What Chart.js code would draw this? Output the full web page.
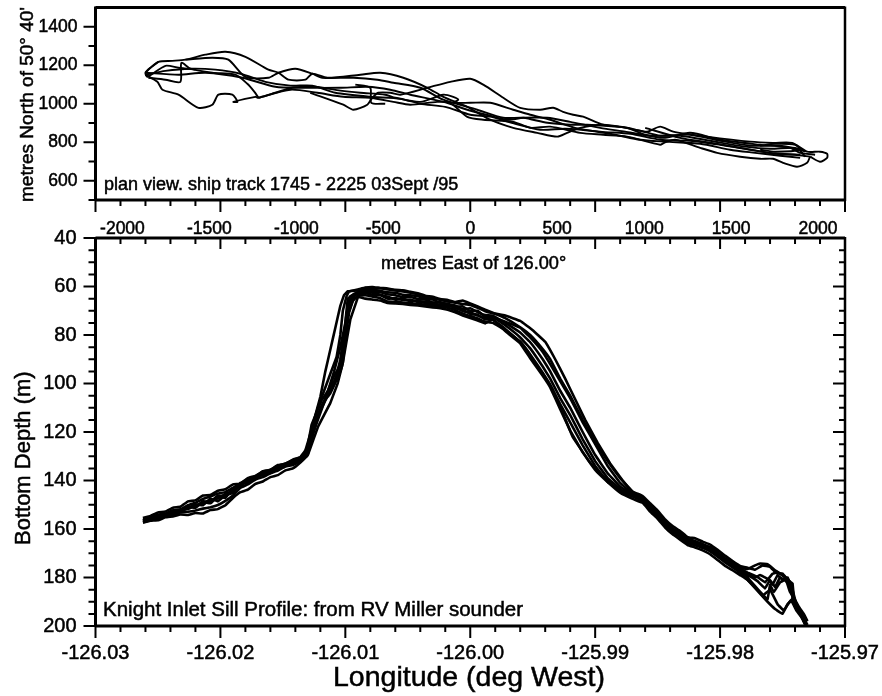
<!DOCTYPE html>
<html>
<head>
<meta charset="utf-8">
<title>Knight Inlet Sill</title>
<script src="https://cdn.jsdelivr.net/npm/chart.js@4"></script>
<style>
    html, body { margin: 0; background: #fff; }
    #planWrap { position: absolute; left: 0; top: 0; width: 882px; height: 240px; }
    #depthWrap { position: absolute; left: 0; top: 225px; width: 882px; height: 471px; }
</style>
</head>
<body>
<div id="planWrap"><canvas id="planChart"></canvas></div>
<div id="depthWrap"><canvas id="depthChart"></canvas></div>
<script>
// --- plan view: ship track, metres East / North ---
const track1X = [-1868,-1839,-1793,-1713,-1638,-1523,-1408,-1293,-1161,-1103,-1046,-948,-908,-822,-632,-517,-385,-247,-155,-17,115,247,385,500,557,632,764,902,1017,1092,1167,1362,1609,1741,1851,1937,2011,2052,2052,2011,1954];
const track1Y = [1161,1187,1218,1223,1229,1255,1270,1244,1177,1161,1125,1125,1156,1135,1151,1161,1135,1083,1036,984,917,875,849,829,849,875,891,875,855,881,855,829,803,797,797,751,751,740,719,699,725];
const track2X = [-1638,-1483,-1391,-1293,-1161,-1103,-1006,-908,-851,-672,-534,-442,-287,-155,40,190,305,443,575,672,845,977,1092,1264,1437,1609,1782,1897,1925];
const track2Y = [1229,1239,1229,1140,1135,1161,1182,1156,1135,1135,1125,1109,1083,1021,969,927,927,901,891,891,881,860,834,839,808,782,782,756,725];
const track3X = [-1868,-1678,-1523,-1310,-1121,-966,-747,-592,-460,-345,-155,-17,115,213,305,443,575,747,891,1034,1207,1379,1580,1724,1868,1925];
const track3Y = [1161,1151,1161,1135,1088,1083,1083,1088,1073,1047,1010,969,938,917,927,927,906,875,855,834,834,808,777,766,771,751];
const track4X = [-1868,-1799,-1770,-1678,-1563,-1483,-1448,-1368,-1339,-1362,-1236,-1218,-1121,-1023,-891,-747,-632,-489,-431,-287,-155,-98,-69,-98,0,115,247,345,460,603,747,920,1092,1264,1437,1609,1753,1897];
const track4Y = [1151,1114,1073,1047,979,995,1047,1047,1010,1010,1036,1031,1057,1083,1088,1068,1057,1047,1031,1010,1047,1036,1021,1005,1005,1005,969,943,917,875,855,844,813,808,787,761,740,735];
const track5X = [-1851,-1753,-1667,-1661,-1609,-1483,-1351,-1282,-1241,-1218];
const track5Y = [1135,1125,1114,1213,1182,1161,1151,1104,1062,1031];
const track6X = [-920,-730,-672,-592,-563,-529,-460,-402,-247,-115,0,75,190,287,402,477,534,592,649,764,902,1006,1121,1264,1437,1667,1839,1897,1983];
const track6Y = [1057,995,969,995,1031,1057,1057,1047,1083,1114,1130,1099,1031,979,969,979,958,943,933,891,875,839,823,849,813,787,771,745,735];
const track7X = [-1218,-1034,-879,-730,-575,-442,-345,-190,-115,-17,75,247,345,460,632,764,902,1092,1115,1178,1322,1420,1552,1667,1741,1799,1879,1937,1954];
const track7Y = [1031,1073,1057,1036,1031,1010,995,1010,1005,932,917,906,875,881,849,839,829,787,797,813,771,745,725,714,714,693,673,693,725];
const track8X = [-1868,-1753,-1609,-1466,-1322,-1178,-1034,-908,-776,-575,-402,-287,-144,0,115,259,402,546,690,833,977,1121,1322,1494,1638,1782,1897];
const track8Y = [1151,1171,1182,1177,1156,1114,1094,1094,1057,1036,1026,1000,984,943,933,896,865,870,860,839,813,803,792,761,745,730,719];
const track9X = [-1793,-1839,-1868,-1856,-1753,-1678,-1580];
const track9Y = [1218,1187,1161,1140,1197,1187,1177];
const track10X = [-661,-575,-569,-489];
const track10Y = [1099,1083,1005,1000];
const track11X = [1006,1207,1379,1552,1724,1868,1954];
const track11Y = [875,823,798,771,745,735,725];
const track12X = [1667,1753,1868,1897,1753,1667];
const track12Y = [782,792,787,761,751,761];

const planXLabels = [-2000,-1500,-1000,-500,0,500,1000,1500,2000];
const planYLabels = [600,800,1000,1200,1400];
const planYMinor = [500,700,900,1100,1300];

// --- depth profile: longitude and bottom depth ---
const lonSlope = [-126.0262,-126.0256,-126.0250,-126.0244,-126.0238,-126.0232,-126.0226,-126.0220,-126.0214,-126.0208,-126.0202,-126.0196,-126.0190,-126.0184,-126.0178,-126.0172,-126.0166,-126.0160,-126.0154,-126.0148,-126.0142,-126.0136];
const lonCrest = [-126.0090,-126.0084,-126.0078,-126.0072,-126.0066,-126.0060,-126.0054,-126.0048,-126.0042,-126.0036,-126.0030,-126.0024,-126.0018,-126.0012,-126.0006,-126.0000,-125.9994,-125.9988];
const lonDrop = [-125.9982,-125.9972,-125.9960,-125.9952,-125.9942,-125.9936,-125.9928,-125.9920,-125.9910,-125.9900,-125.9890,-125.9880,-125.9870];
const lonFoot = [-125.9862,-125.9856,-125.9850,-125.9844,-125.9838,-125.9832,-125.9826,-125.9820,-125.9814,-125.9808,-125.9802,-125.9796,-125.9790,-125.9784];

const lon1 = [...lonSlope,
    -126.0130,-126.0125,-126.0120,-126.0116,-126.0112,-126.0108,-126.0104,-126.0101,-126.0098,
    ...lonCrest,
    -125.9982,-125.9972,-125.9960,-125.9950,-125.9940,-125.9932,-125.9924,-125.9916,-125.9908,-125.9898,-125.9888,-125.9878,-125.9870,
    ...lonFoot,
    -125.9778,-125.9772,-125.9768,-125.9762,-125.9756,-125.9750,-125.9745,-125.9742,-125.9742,-125.9738,-125.9734,-125.9730];
const depth1 = [155.8,155.2,154.1,153.6,152.3,151.8,150.2,149.2,147.6,146.6,145.4,144.8,143.0,141.2,139.0,138.1,136.3,135.6,133.9,133.0,131.6,130.4,
    127,115,105.5,95,86,77,68,63.5,62,
    61.6,60.6,60.8,60.7,61.2,61.6,62.0,62.6,63.2,64.2,64.8,65.6,66.2,66.7,67.2,67.6,68.8,70.2,
    71,72,74.2,78,82.8,90,98,106.5,115,124.5,133,140,144.8,
    147.2,150.4,153.2,157,159.8,161.6,164.2,164.9,166.2,167.4,169.6,172,174,176,
    176.5,175,174.2,174.5,177,179.2,181.5,184,190,193,196,199.5];

const lon2 = [...lonSlope,
    -126.0130,-126.0126,-126.0122,-126.0118,-126.0112,-126.0108,-126.0104,-126.0102,-126.0100,-126.0097,-126.0094,
    ...lonCrest,
    -125.9982,-125.9972,-125.9960,-125.9953,-125.9946,-125.9940,-125.9934,-125.9926,-125.9918,-125.9904,-125.9892,-125.9880,-125.9870,
    ...lonFoot,
    -125.9778,-125.9770,-125.9762,-125.9756,-125.9750,-125.9746,-125.9743,-125.9739,-125.9734,-125.9731];
const depth2 = [157.2,156.4,155.9,154.8,154.2,153.2,152.9,152.4,151.6,151.0,150.1,148.4,146.2,143.0,141.6,139.6,138.6,137.0,135.9,134.2,133.6,132.0,
    128.5,118,113,108,104,99.7,95,91.4,82,70.7,66,
    63.8,63.6,64.2,64.8,66.2,66.3,66.6,66.8,67.2,67.4,67.8,68.2,68.8,69.7,71.2,72.2,73.2,74.6,
    75,78,82.7,87.5,93,97.5,102.6,112,122,132.7,139,144.7,146.6,
    148.4,151.8,154.8,158.4,161.2,163.4,165.8,166.7,167.8,169.2,171.4,173.8,175.8,178,
    181,185.5,190,193,195,191,189.5,193.5,197,199.5];

const lon3 = [...lonSlope,
    -126.0131,-126.0127,-126.0123,-126.0119,-126.0114,-126.0110,-126.0106,-126.0104,-126.0101,-126.0098,-126.0096,
    ...lonCrest, ...lonDrop, ...lonFoot,
    -125.9778,-125.9772,-125.9766,-125.9762,-125.9760,-125.9757,-125.9752,-125.9748,-125.9744,-125.9742,-125.9738,-125.9733];
const depth3 = [156.4,155.4,155.3,154.0,153.6,152.1,151.8,150.2,149.8,148.0,147.4,145.4,144.6,141.4,140.6,138.2,137.8,135.8,135.2,133.2,133.0,130.9,
    128,117,112,107,103,98,94,90,80,69,64,
    62.6,61.8,62.0,62.4,63.2,63.6,64.4,64.2,65.2,65.4,66.6,66.4,67.6,67.8,69.4,69.0,70.6,71.8,
    72,75,79,83,90,95,103,110,120,129.5,137,142.5,146,
    147.6,150.6,154.4,157,160.6,162,165.2,165.4,167.4,167.8,170.8,172.4,175,176.6,
    180,183.5,187,189,183,186,182,181,183.5,188,192,197];

const lon4 = [...lonSlope,
    -126.0130,-126.0122,-126.0115,-126.0109,-126.0104,-126.0100,-126.0098,
    ...lonCrest, ...lonDrop, ...lonFoot,
    -125.9778,-125.9772,-125.9768,-125.9762,-125.9758,-125.9754,-125.9750,-125.9746,-125.9742,-125.9739,-125.9735,-125.9731];
const depth4 = [156.9,156.1,154.6,154.4,152.8,152.9,151.0,151.3,148.9,149.4,146.6,147.2,143.2,142.4,139.6,139.6,136.8,136.9,134.4,134.0,132.2,131.6,
    127,115,105,95,85,75,65,
    62.2,61.2,61.4,61.8,62.4,62.6,63.4,63.6,64.0,65.0,65.4,66.8,67.0,68.4,68.2,70.2,70.0,72.6,
    72.5,76,81,85.5,93,98,106,113,123,132,139,143.5,146.2,
    148,151.4,153.6,158,160,163,164.4,166.4,166.6,168.8,170.2,173.2,174.4,177.4,
    178.5,180,179,180.5,183,179,181,180,185,191,195,198.5];

const lon5 = [...lonSlope,
    -126.0130,-126.0125,-126.0121,-126.0116,-126.0110,-126.0106,-126.0103,-126.0100,-126.0098,-126.0095,-126.0092,
    ...lonCrest, ...lonDrop, ...lonFoot,
    -125.9778,-125.9770,-125.9764,-125.9758,-125.9754,-125.9750,-125.9746,-125.9743,-125.9741,-125.9737,-125.9733];
const depth5 = [156.2,155.9,155.0,153.8,153.4,152.4,150.8,150.8,148.6,148.8,146.2,146.6,144.0,142.2,140.2,139.0,137.1,136.4,135.0,133.4,132.8,131.0,
    129,119,112.5,107,101,97,91,81,72,67,63.5,
    63.2,62.8,63.4,63.6,65.0,64.8,65.6,65.4,66.4,66.2,67.2,67.4,68.2,68.4,70.2,70.6,72.0,73.2,
    73,74.5,77,81,87,92,99,106,116,125,134,141,145.5,
    147.4,151.2,154.2,157.4,160.8,162.4,164.6,166,167,168.4,170,173,175.2,176.4,
    178,179.8,182,178.5,177.6,179,180.5,183,189,193,198];

const lon6 = [...lonSlope,
    -126.0131,-126.0126,-126.0120,-126.0115,-126.0109,-126.0105,-126.0103,-126.0101,-126.0099,-126.0096,-126.0093,
    ...lonCrest, ...lonDrop, ...lonFoot,
    -125.9778,-125.9770,-125.9764,-125.9760,-125.9756,-125.9752,-125.9747,-125.9744,-125.9741,-125.9736,-125.9732];
const depth6 = [156.6,155.6,155.2,154.3,153.0,152.6,151.4,149.8,150.2,147.4,148.6,146.0,145.2,141.0,141.0,138.4,137.6,136.0,134.6,133.8,132.4,131.4,
    130,120,111,105,99,94,88,80,71,66,63,
    63.0,62.2,62.6,63.4,64.2,65.4,65.0,66.0,65.8,66.8,66.6,67.8,67.4,69.0,69.6,71.4,71.6,73.6,
    73.6,77.5,83,88,95.5,100.5,108.5,116,125.5,134,140.6,144.2,146.4,
    148.2,150.8,154.6,157.6,160.2,162.8,165,165.6,167.2,168,171,172.6,174.6,177.8,
    179,181.5,184.5,181,184,180,181.5,186,188.5,194,199];

// upper and lower edges of the band
const lon7 = [...lonSlope,
    -126.0132,-126.0127,-126.0122,-126.0117,-126.0112,-126.0107,-126.0104,-126.0102,-126.0099,-126.0097,
    ...lonCrest, ...lonDrop, ...lonFoot,
    -125.9778,-125.9772,-125.9766,-125.9760,-125.9755,-125.9750,-125.9746,-125.9742,-125.9741,-125.9737,-125.9733,-125.9730];
const depth7 = [155.4,154.6,153.2,152.8,151.2,150.8,148.6,148.2,146.2,146.0,144.2,143.6,141.6,141.4,139.2,138.4,136.2,135.6,133.6,133.2,131.4,130.4,
    127.5,119,110,103,96,89,80,70,64,62,
    61.2,60.4,60.2,60.6,60.8,61.4,61.6,62.2,62.8,63.8,64.2,65.2,65.6,66.4,65.8,67.0,68.2,69.6,
    70.8,73,76.8,80,85.8,90,98,105,115,124,132,139,144.5,
    146.4,149.4,152.4,156,158.8,160.8,163.4,163.8,165.2,166.4,168.6,171,173.2,175.2,
    176,176.8,175,175.6,178.2,178.4,180.8,182.5,188,192,195,198];

const lon8 = [...lonSlope,
    -126.0130,-126.0122,-126.0112,-126.0106,-126.0102,-126.0096,-126.0090,
    ...lonCrest, ...lonDrop, ...lonFoot,
    -125.9778,-125.9772,-125.9766,-125.9760,-125.9754,-125.9749,-125.9745,-125.9742,-125.9740,-125.9736,-125.9732];
const depth8 = [157.4,156.6,156.4,155.2,154.8,154.0,154.2,153.4,153.6,152.2,151.8,150.2,147.2,144.8,143.8,141.4,140.4,138.6,137.8,135.8,135.0,132.6,
    129.5,118,108,99.7,91.4,73.6,64.5,
    64.2,65.0,65.4,65.8,66.8,67.0,67.2,67.6,67.8,68.2,68.6,69.0,69.6,70.6,72.0,73.0,74.0,75.2,
    73.6,78.4,83.4,89.6,96.8,101.6,110.6,119.4,128.4,135.6,140.6,145,147.6,
    149.2,152.8,155.8,159.4,162.2,164.4,166.6,167.6,168.8,170.4,172.8,175.2,177,179,
    181,184,187.5,185,191,193.6,190.5,188.8,191,195,199.5];

const depthLabels = [40,60,80,100,120,140,160,180,200];
const depthMinor = [45,50,55,65,70,75,85,90,95,105,110,115,125,130,135,145,150,155,165,170,175,185,190,195];
const lonLabels = [-126.03,-126.02,-126.01,-126.00,-125.99,-125.98,-125.97];
const lonMinor = [-126.028,-126.026,-126.024,-126.022,-126.018,-126.016,-126.014,-126.012,-126.008,-126.006,-126.004,-126.002,-125.998,-125.996,-125.994,-125.992,-125.988,-125.986,-125.984,-125.982,-125.978,-125.976,-125.974,-125.972];

const FONT = '"Liberation Sans", Arial, sans-serif';

function toPoints(xs, ys) {
    return xs.map((x, i) => ({ x: x, y: ys[i] }));
}

function lineSet(xs, ys, width, tension) {
    return {
        data: toPoints(xs, ys),
        borderColor: '#000',
        borderWidth: width,
        pointRadius: 0,
        tension: tension,
        fill: false
    };
}

// frame, tick marks and loose text are drawn on top of the scales
const decorations = {
    id: 'decorations',
    afterDraw(chart, args, opts) {
        const ctx = chart.ctx;
        const a = chart.chartArea;
        ctx.save();
        ctx.strokeStyle = '#000';
        ctx.fillStyle = '#000';
        ctx.lineCap = 'butt';

        // box
        ctx.lineWidth = 3;
        ctx.beginPath();
        ctx.moveTo(a.left, a.top);
        ctx.lineTo(a.right, a.top);
        ctx.moveTo(a.left, a.top - 1);
        ctx.lineTo(a.left, a.bottom + 1);
        ctx.moveTo(a.left, a.bottom);
        ctx.lineTo(a.right, a.bottom);
        ctx.stroke();
        ctx.lineWidth = 2.5;
        ctx.beginPath();
        ctx.moveTo(a.right, a.top - 1);
        ctx.lineTo(a.right, a.bottom + 1);
        ctx.stroke();

        // x ticks go by the hidden longitude scale
        const lon = chart.scales.lon;
        ctx.lineWidth = 2;
        ctx.beginPath();
        lonLabels.forEach(v => {
            const px = lon.getPixelForValue(v);
            ctx.moveTo(px, a.bottom);
            ctx.lineTo(px, a.bottom + 12);
            if (opts.mirror) {
                ctx.moveTo(px, a.top);
                ctx.lineTo(px, a.top + 11);
            }
        });
        lonMinor.forEach(v => {
            const px = lon.getPixelForValue(v);
            ctx.moveTo(px, a.bottom);
            ctx.lineTo(px, a.bottom + 6);
            if (opts.mirror) {
                ctx.moveTo(px, a.top);
                ctx.lineTo(px, a.top + 6);
            }
        });

        // y ticks
        const y = chart.scales.y;
        opts.yMajor.forEach(v => {
            const py = y.getPixelForValue(v);
            ctx.moveTo(a.left - 12, py);
            ctx.lineTo(a.left, py);
            if (opts.mirror) {
                ctx.moveTo(a.right - 12, py);
                ctx.lineTo(a.right, py);
            }
        });
        opts.yMinor.forEach(v => {
            const py = y.getPixelForValue(v);
            ctx.moveTo(a.left - 7, py);
            ctx.lineTo(a.left, py);
            if (opts.mirror) {
                ctx.moveTo(a.right - 6, py);
                ctx.lineTo(a.right, py);
            }
        });
        ctx.stroke();

        ctx.textAlign = 'left';
        ctx.textBaseline = 'alphabetic';
        ctx.lineWidth = 0.5;
        opts.labels.forEach(t => {
            ctx.save();
            ctx.translate(t.x, t.y);
            if (t.vertical) ctx.rotate(-Math.PI / 2);
            ctx.font = t.size + 'px ' + FONT;
            ctx.fillText(t.text, 0, 0);
            ctx.strokeText(t.text, 0, 0);
            ctx.restore();
        });
        ctx.restore();
    }
};

function hiddenLon() {
    return { type: 'linear', axis: 'x', position: 'bottom', display: false, min: -126.03, max: -125.97 };
}

// keep the plot box where it is, whatever the size of the outer labels
function pinX(height) {
    return s => {
        s.height = height;
        s.paddingLeft = 0;
        s.paddingRight = 0;
    };
}

function pinY(width) {
    return s => {
        s.width = width;
        s.paddingTop = 0;
        s.paddingBottom = 0;
    };
}

function tickStyle(size, padding, format) {
    return {
        autoSkip: false,
        maxRotation: 0,
        padding: padding,
        color: '#000',
        textStrokeColor: '#000',
        textStrokeWidth: 0.5,
        font: { family: FONT, size: size },
        callback: format
    };
}

new Chart(document.getElementById('planChart'), {
    type: 'line',
    data: {
        datasets: [
            lineSet(track1X, track1Y, 1.9, 0.25), lineSet(track2X, track2Y, 1.9, 0.25), lineSet(track3X, track3Y, 1.9, 0.25),
            lineSet(track4X, track4Y, 1.9, 0.25), lineSet(track5X, track5Y, 1.9, 0.25), lineSet(track6X, track6Y, 1.9, 0.25),
            lineSet(track7X, track7Y, 1.9, 0.25), lineSet(track8X, track8Y, 1.9, 0.25), lineSet(track9X, track9Y, 1.9, 0.25),
            lineSet(track10X, track10Y, 1.9, 0.25), lineSet(track11X, track11Y, 1.9, 0.25), lineSet(track12X, track12Y, 1.9, 0.25)
        ]
    },
    options: {
        responsive: true,
        maintainAspectRatio: false,
        animation: false,
        layout: { padding: { top: 7.5, right: 37 } },
        plugins: {
            legend: { display: false },
            tooltip: { enabled: false },
            decorations: {
                mirror: false,
                yMajor: planYLabels,
                yMinor: planYMinor,
                labels: [
                    { text: "metres North of 50\u00b0 40'", x: 33, y: 202, size: 19, vertical: true },
                    { text: 'plan view. ship track 1745 - 2225 03Sept /95', x: 104, y: 190, size: 18 }
                ]
            }
        },
        scales: {
            x: {
                type: 'linear',
                min: -2155,
                max: 2155,
                grid: { display: false, drawTicks: false },
                border: { display: false },
                afterBuildTicks: s => { s.ticks = planXLabels.map(v => ({ value: v })); },
                afterFit: pinX(40),
                ticks: tickStyle(17.5, 19, v => String(v))
            },
            y: {
                type: 'linear',
                min: 500,
                max: 1500,
                grid: { display: false, drawTicks: false },
                border: { display: false },
                afterBuildTicks: s => { s.ticks = planYLabels.map(v => ({ value: v })); },
                afterFit: pinY(95.5),
                ticks: tickStyle(17.5, 18, v => String(v))
            },
            lon: hiddenLon()
        }
    },
    plugins: [decorations]
});

new Chart(document.getElementById('depthChart'), {
    type: 'line',
    data: {
        datasets: [
            lineSet(lon1, depth1, 2.6, 0.05), lineSet(lon2, depth2, 2.6, 0.05), lineSet(lon3, depth3, 2.6, 0.05),
            lineSet(lon4, depth4, 2.6, 0.05), lineSet(lon5, depth5, 2.6, 0.05), lineSet(lon6, depth6, 2.6, 0.05),
            lineSet(lon7, depth7, 2.6, 0.05), lineSet(lon8, depth8, 2.6, 0.05)
        ]
    },
    options: {
        responsive: true,
        maintainAspectRatio: false,
        animation: false,
        layout: { padding: { top: 13, right: 37 } },
        plugins: {
            legend: { display: false },
            tooltip: { enabled: false },
            decorations: {
                mirror: true,
                yMajor: depthLabels,
                yMinor: depthMinor,
                labels: [
                    { text: 'Bottom Depth (m)', x: 30, y: 320, size: 22, vertical: true },
                    { text: 'Longitude (deg West)', x: 333, y: 461, size: 28.5 },
                    { text: 'metres East of 126.00\u00b0', x: 381, y: 44, size: 18.2 },
                    { text: 'Knight Inlet Sill Profile: from RV Miller sounder', x: 103, y: 391, size: 20.5 }
                ]
            }
        },
        scales: {
            x: {
                type: 'linear',
                min: -126.03,
                max: -125.97,
                grid: { display: false, drawTicks: false },
                border: { display: false },
                afterBuildTicks: s => { s.ticks = lonLabels.map(v => ({ value: v })); },
                afterFit: pinX(70),
                ticks: tickStyle(20, 15, v => v.toFixed(2))
            },
            y: {
                type: 'linear',
                reverse: true,
                min: 40,
                max: 200,
                grid: { display: false, drawTicks: false },
                border: { display: false },
                afterBuildTicks: s => { s.ticks = depthLabels.map(v => ({ value: v })); },
                afterFit: pinY(95.5),
                ticks: tickStyle(20, 19, v => String(v))
            },
            lon: hiddenLon()
        }
    },
    plugins: [decorations]
});
</script>
</body>
</html>
